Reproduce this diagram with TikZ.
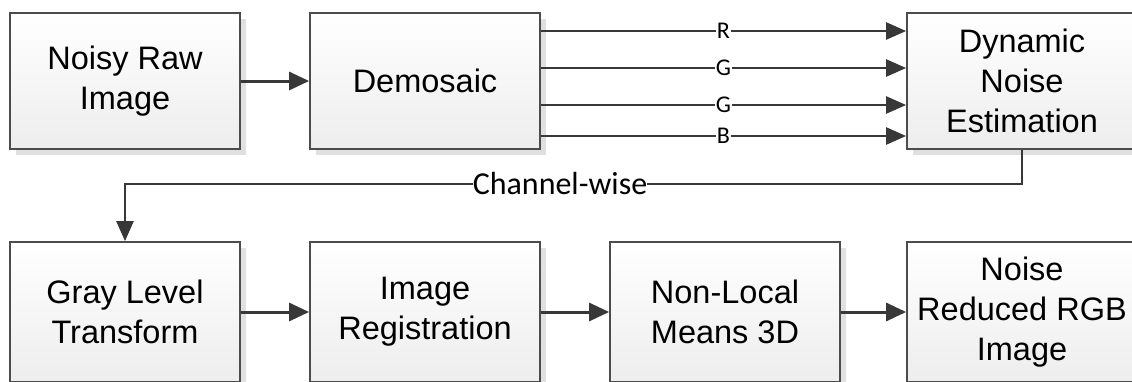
\documentclass[tikz,border=0pt]{standalone}
\usepackage{fontspec}
\setmainfont{Liberation Sans}
\newfontfamily\lblfont{Carlito}
\usetikzlibrary{arrows.meta,shadows}

\begin{document}
\begin{tikzpicture}[x=1pt,y=-1pt,
  block/.style={draw=black!70, line width=1.8pt, top color=white, bottom color=black!7,
    minimum width=230pt, minimum height=136pt, align=center, text=black,
    font=\fontsize{32.5}{40}\selectfont,
    drop shadow={shadow xshift=6pt, shadow yshift=-6pt, fill=black!12, opacity=1}},
  flow/.style={draw=black!78, line width=3pt, -{Triangle[length=20pt,width=18pt]}},
  chan/.style={draw=black!78, line width=2.4pt, -{Triangle[length=20pt,width=17pt]}},
  lbl/.style={fill=white, inner sep=1pt, text=black, font=\lblfont\fontsize{24}{28}\selectfont}]
\useasboundingbox (0,0) rectangle (1132,381);
\clip (0,0) rectangle (1132,381);
\fill[white] (0,0) rectangle (1132,381);

\node[block] (raw) at (125,81) {Noisy Raw\\Image};
\node[block] (demosaic) at (425,81) {Demosaic};
\node[block] (dne) at (1022,81) {Dynamic\\Noise\\Estimation};
\node[block, minimum height=140pt] (gray) at (125,312) {Gray Level\\Transform};
\node[block, minimum height=140pt] (reg) at (425,312) {Image\\Registration};
\node[block, minimum height=140pt] (nlm) at (725,312) {Non-Local\\Means 3D};
\node[block, minimum height=140pt] (out) at (1022,312) {Noise\\Reduced RGB\\Image};

\draw[flow] (raw) -- (demosaic);
\foreach \y/\c in {31/R, 68/G, 105/G, 136/B}
  \draw[chan] (demosaic.east |- 0,\y) -- node[lbl] {\c} (dne.west |- 0,\y);

\draw[chan] (dne.south) -- (dne.south |- 0,184)
  -- node[pos=0.515, lbl, font=\lblfont\fontsize{32}{36}\selectfont, inner sep=0pt] {Channel-wise} (gray.north |- 0,184)
  -- (gray.north);

\draw[flow] (gray) -- (reg);
\draw[flow] (reg) -- (nlm);
\draw[flow] (nlm) -- (out);
\end{tikzpicture}
\end{document}
